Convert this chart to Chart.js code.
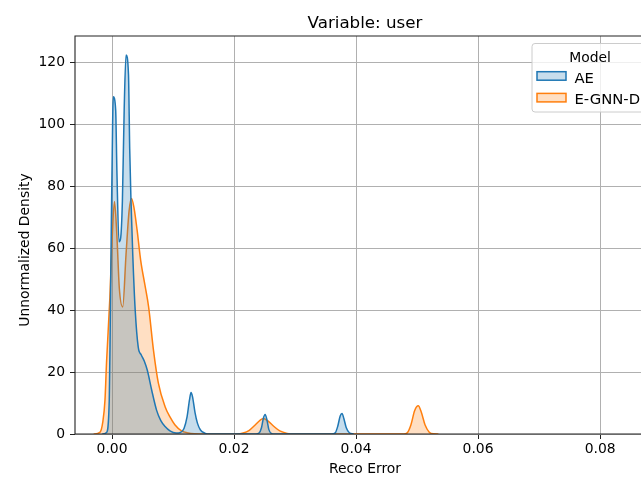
<!DOCTYPE html>
<html><head><meta charset="utf-8">
<script src="https://cdn.jsdelivr.net/npm/chart.js@4.4.0/dist/chart.umd.min.js"></script>
<style>html,body{margin:0;padding:0;background:#fff;overflow:hidden;width:641px;height:478px}canvas{display:block}</style>
</head><body>
<canvas id="c" width="700" height="478"></canvas>
<script>
const chartTitle = 'Variable: user';
const xAxisTitle = 'Reco Error';
const yAxisTitle = 'Unnormalized Density';
const legendTitle = 'Model';
const seriesNames = ['AE', 'E-GNN-D'];
const xTicks = [0, 0.02, 0.04, 0.06, 0.08];
const xTickLabels = ['0.00', '0.02', '0.04', '0.06', '0.08'];
const yTicks = [0, 20, 40, 60, 80, 100, 120];
const yTickLabels = ['0', '20', '40', '60', '80', '100', '120'];

const aeX = [-0.0016, -0.0009, -0.00045, -0.0003, -0.0001, 0.0001, 0.0002, 0.0006, 0.0008, 0.00115, 0.0014, 0.0017, 0.0020, 0.0023, 0.0027, 0.0029, 0.0031, 0.0034, 0.0038, 0.0043, 0.0048, 0.0053, 0.0058, 0.0065, 0.0073, 0.0080, 0.0087, 0.0095, 0.0105, 0.0112, 0.0118, 0.0123, 0.0127, 0.01295, 0.0132, 0.0136, 0.0140, 0.0145, 0.0152, 0.0160, 0.0236, 0.0241, 0.0245, 0.0248, 0.0251, 0.0254, 0.0257, 0.0261, 0.0266, 0.0360, 0.0366, 0.0370, 0.0374, 0.0377, 0.0380, 0.0384, 0.0389, 0.0396];
const aeY = [0, 0.5, 11, 33, 70, 100, 108.8, 104.5, 85, 62, 63, 75, 105, 122.3, 116, 92, 76, 58, 40, 28, 25.5, 23.5, 20.5, 14.2, 7.7, 4.3, 2.4, 1.0, 0.3, 0.5, 1.8, 5.5, 11, 13.4, 12, 7, 3.5, 1.3, 0.3, 0, 0, 0.3, 2, 5, 6.3, 4.5, 1.5, 0.2, 0, 0, 0.4, 2.5, 5.8, 6.6, 5, 2, 0.4, 0];

const egX = [-0.0030, -0.0020, -0.0015, -0.00115, -0.0009, -0.00035, 0.0000, 0.0004, 0.0008, 0.0012, 0.00175, 0.0023, 0.0028, 0.0032, 0.0036, 0.0041, 0.0047, 0.0054, 0.0060, 0.0068, 0.0076, 0.0087, 0.0095, 0.0103, 0.0114, 0.0125, 0.0135, 0.0145, 0.0205, 0.0215, 0.0225, 0.0235, 0.0243, 0.0248, 0.0255, 0.0265, 0.0275, 0.0287, 0.0300, 0.0478, 0.0484, 0.0490, 0.0496, 0.0502, 0.0507, 0.0513, 0.0520, 0.0527, 0.0535];
const egY = [0, 0.5, 4, 11, 23, 44, 62, 75, 64, 47, 41, 58, 72, 76, 73, 66, 56, 48, 41, 27, 16.4, 8.8, 5.5, 3.0, 1.0, 0.3, 0.05, 0, 0, 0.3, 1.2, 3, 4.5, 5.0, 4.3, 2.5, 1, 0.2, 0, 0, 0.4, 3, 7.5, 9.1, 7, 3, 0.6, 0.05, 0];

const FONT = 'DejaVu Sans';
Chart.defaults.font.family = FONT;
Chart.defaults.color = '#000';

const framePlugin = {
  id: 'frame',
  afterLayout(chart) {
    const tb = chart.titleBlock;
    if (tb) { tb.left = chart.chartArea.left; tb.right = chart.chartArea.right; }
    const ys = chart.scales.y;
    if (ys && !ys._titleShifted) {
      const orig = ys.drawTitle;
      ys.drawTitle = function () {
        const t = this.top, b = this.bottom;
        this.top = t + 15; this.bottom = b + 15;
        orig.call(this);
        this.top = t; this.bottom = b;
      };
      ys._titleShifted = true;
    }
  },
  afterDatasetsDraw(chart) {
    const {ctx, chartArea: a} = chart;
    ctx.save();
    ctx.strokeStyle = '#222';
    ctx.lineWidth = 1.1;
    ctx.beginPath();
    ctx.moveTo(a.right, a.top);
    ctx.lineTo(a.left, a.top);
    ctx.lineTo(a.left, a.bottom);
    ctx.lineTo(a.right, a.bottom);
    ctx.stroke();
    ctx.restore();
  }
};

const legendPlugin = {
  id: 'boxLegend',
  afterDraw(chart) {
    const ctx = chart.ctx;
    ctx.save();
    const bx = 532, by = 43.5, bw = 118, bh = 68.5, r = 3;
    ctx.beginPath();
    ctx.roundRect(bx, by, bw, bh, r);
    ctx.fillStyle = 'rgba(255,255,255,0.8)';
    ctx.fill();
    ctx.strokeStyle = '#cccccc';
    ctx.lineWidth = 1;
    ctx.stroke();
    ctx.font = '13.9px "' + FONT + '"';
    ctx.fillStyle = '#000';
    ctx.textAlign = 'center';
    ctx.textBaseline = 'alphabetic';
    ctx.fillText(legendTitle, 590, 61.5);
    ctx.textAlign = 'left';
    ctx.font = '14.8px "' + FONT + '"';
    chart.data.datasets.forEach((ds, i) => {
      const py = 71.7 + i * 21.7;
      ctx.fillStyle = ds.backgroundColor;
      ctx.fillRect(537, py, 29, 8.5);
      ctx.strokeStyle = ds.borderColor;
      ctx.lineWidth = 1.5;
      ctx.strokeRect(537, py, 29, 8.5);
      ctx.fillStyle = '#000';
      ctx.fillText(ds.label, 574.5, py + 10.8);
    });
    ctx.restore();
  }
};

const toPts = (xs, ys) => xs.map((x, i) => ({x: x, y: ys[i]}));

new Chart(document.getElementById('c'), {
  type: 'line',
  data: {
    datasets: [
      {
        label: seriesNames[0],
        data: toPts(aeX, aeY),
        borderColor: '#1f77b4',
        backgroundColor: 'rgba(31,119,180,0.25)',
        fill: 'origin',
        borderWidth: 1.5,
        pointRadius: 0,
        cubicInterpolationMode: 'monotone'
      },
      {
        label: seriesNames[1],
        data: toPts(egX, egY),
        borderColor: '#ff7f0e',
        backgroundColor: 'rgba(255,127,14,0.25)',
        fill: 'origin',
        borderWidth: 1.5,
        pointRadius: 0,
        cubicInterpolationMode: 'monotone'
      }
    ]
  },
  options: {
    responsive: false,
    animation: false,
    devicePixelRatio: 1,
    layout: {padding: {left: 0, right: 45, top: 0, bottom: 0}},
    plugins: {
      legend: {display: false},
      tooltip: {enabled: false},
      title: {
        display: true,
        text: chartTitle,
        color: '#000',
        font: {size: 16.7, weight: 'normal'},
        padding: {top: 13.3, bottom: 2.7}
      }
    },
    scales: {
      x: {
        type: 'linear',
        min: -0.006066,
        max: 0.0890,
        afterBuildTicks: s => { s.ticks = xTicks.map(v => ({value: v})); },
        afterFit: s => { s.height = 44; },
        ticks: {
          callback: (v, i) => xTickLabels[i],
          font: {size: 13.9},
          color: '#000',
          padding: 2,
          maxRotation: 0,
          autoSkip: false
        },
        grid: {color: '#b0b0b0', lineWidth: 1, drawTicks: true, tickLength: 5, tickColor: '#222', tickWidth: 1},
        border: {display: false},
        title: {display: true, text: xAxisTitle, color: '#000', font: {size: 13.9}, padding: {top: 0, bottom: 0}}
      },
      y: {
        type: 'linear',
        min: 0,
        max: 128.39,
        afterBuildTicks: s => { s.ticks = yTicks.map(v => ({value: v})); },
        afterFit: s => { s.width = 75; },
        ticks: {
          callback: (v, i) => yTickLabels[i],
          font: {size: 13.9},
          color: '#000',
          padding: 5,
          autoSkip: false
        },
        grid: {color: '#b0b0b0', lineWidth: 1, drawTicks: true, tickLength: 5, tickColor: '#222', tickWidth: 1},
        border: {display: false},
        title: {display: true, text: yAxisTitle, color: '#000', font: {size: 13.9}, padding: {top: 17, bottom: 0}}
      }
    }
  },
  plugins: [framePlugin, legendPlugin]
});
</script>
</body></html>
